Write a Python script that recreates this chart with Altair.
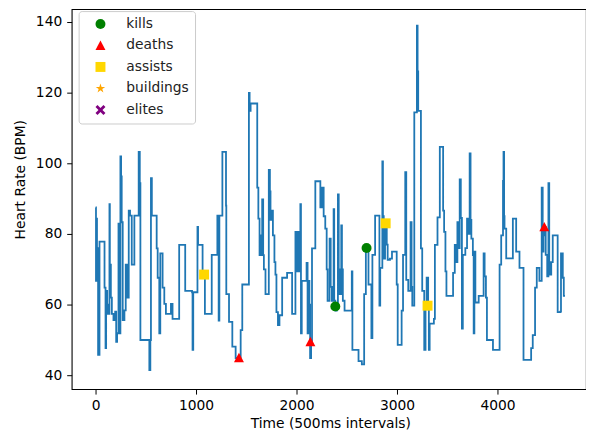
import altair as alt
import pandas as pd

# Heart-rate trace (time index in 500 ms steps, BPM)
t_vals = [0, 4, 8, 14, 22, 25, 39, 89, 99, 105, 115, 122, 138, 142, 152, 162, 178, 195, 205, 214,
          228, 234, 247, 254, 260, 270, 287, 300, 312, 330, 343, 360, 386, 429, 440, 446, 535, 545, 551, 560,
          608, 618, 634, 644, 667, 684, 700, 750, 766, 832, 892, 960, 965, 972, 1014, 1020, 1065, 1088, 1156, 1212,
          1225, 1232, 1262, 1298, 1301, 1328, 1361, 1394, 1420, 1444, 1460, 1526, 1533, 1543, 1609, 1620, 1632, 1642, 1650, 1658,
          1668, 1675, 1691, 1724, 1735, 1741, 1750, 1765, 1780, 1790, 1800, 1815, 1830, 1857, 1906, 1956, 1989, 1999, 2012, 2025,
          2038, 2044, 2052, 2100, 2110, 2118, 2128, 2135, 2145, 2154, 2187, 2237, 2253, 2270, 2286, 2300, 2309, 2329, 2340, 2352,
          2369, 2375, 2386, 2400, 2412, 2420, 2428, 2445, 2452, 2461, 2478, 2550, 2556, 2617, 2650, 2673, 2690, 2716, 2745, 2755,
          2782, 2825, 2833, 2854, 2860, 2868, 2881, 2898, 2907, 2930, 2950, 2997, 3007, 3046, 3060, 3082, 3092, 3112, 3135, 3145,
          3152, 3172, 3198, 3205, 3211, 3238, 3251, 3271, 3284, 3295, 3310, 3317, 3325, 3367, 3377, 3403, 3426, 3459, 3469, 3482,
          3492, 3558, 3575, 3590, 3601, 3610, 3624, 3635, 3646, 3655, 3680, 3697, 3710, 3723, 3732, 3740, 3755, 3763, 3770, 3780,
          3813, 3862, 3872, 3885, 3895, 3955, 4021, 4037, 4055, 4060, 4066, 4070, 4087, 4153, 4186, 4219, 4259, 4335, 4351, 4374,
          4391, 4417, 4440, 4450, 4458, 4466, 4480, 4495, 4507, 4515, 4523, 4535, 4550, 4599, 4625, 4632, 4650, 4660, 4672]
hr_vals = [87.5, 66.7, 84.3, 72, 76, 45.8, 77.8, 64.8, 47.7, 63.9, 60, 57.4, 88.4, 71.3, 62, 57.4, 55.6, 58, 49.5, 51.9,
           82.9, 51.9, 101.9, 96.3, 83.3, 55.6, 58.4, 71.3, 62, 86.6, 85.2, 71.3, 85.2, 103.2, 94.4, 50, 41.5, 50, 95.8, 85.2,
           75.9, 67.6, 51.9, 74.5, 64.8, 60.2, 57.4, 60.2, 56, 76.9, 63.9, 63.5, 47.2, 63.5, 82, 76.9, 68.5, 57.4, 74.1, 85.2,
           55.5, 85.2, 103.2, 88, 63, 55.1, 48.1, 44.9, 45, 52.8, 65.7, 119.9, 114.8, 116.9, 93.1, 84.3, 74, 79.6, 74, 89.8,
           74, 70, 63, 98.1, 92, 84, 86.6, 79.6, 72, 68.5, 57.9, 54.2, 57, 67.6, 69, 57.4, 80.6, 69.4, 80.6, 69.4,
           88.4, 51.9, 66.7, 71.8, 51.9, 66.7, 60, 44.9, 49.5, 75.9, 94.9, 87.5, 93.1, 85, 81.5, 70, 61.1, 78.7, 65, 61.1,
           87, 61.1, 58.3, 60, 91.2, 70, 63, 82.4, 70, 61.1, 58.3, 69.4, 47.2, 44, 43.1, 63, 75.9, 65.7, 50.5, 74.1,
           85.2, 59.7, 70.4, 100.5, 85, 73, 82.9, 77, 72.7, 73, 75, 65.7, 48.6, 58.3, 74.1, 97.5, 67, 63.9, 83.3, 65,
           59.7, 114.4, 138.9, 126, 114.8, 75.9, 63.9, 47.2, 59.7, 67.6, 59.7, 47.2, 54.6, 56, 76.9, 84.7, 104.6, 86.6, 80.6, 69.4,
           62.5, 69, 76.9, 72, 83.3, 76, 95.4, 84.5, 53.2, 74.1, 76, 84.3, 80, 102.8, 84, 78.7, 74, 51.9, 75, 60.6,
           62.5, 74.5, 68, 62, 50, 47.2, 71.3, 79.6, 95, 103.2, 85, 81.5, 73.1, 84.3, 75, 70.4, 44.4, 47.7, 51.4, 64.8,
           70.4, 66.7, 93.1, 75, 79.6, 82, 74.1, 68, 94.4, 72, 68.5, 72, 79.6, 57.9, 58, 74.5, 67.6, 62.5, 62.5]

# Game events
ev_t = [2386, 2697, 1427, 2138, 4466, 1080, 2887, 3304]
ev_hr = [59.5, 76, 45, 49.5, 82, 68.5, 83, 59.7]
ev_type = ["kills", "kills", "deaths", "deaths", "deaths", "assists", "assists", "assists"]

ev_domain = ["kills", "deaths", "assists", "buildings", "elites"]
ev_colors = ["#008000", "#ff0000", "#ffd700", "#ffa500", "#800080"]
tri = "M0,-1L1,0.9L-1,0.9Z"
star = ("M0,-1L0.223,-0.307L0.951,-0.309L0.361,0.117L0.588,0.809L0,0.38L-0.588,0.809"
        "L-0.361,0.117L-0.951,-0.309L-0.223,-0.307Z")
xshape = "M-1,-0.6L-0.6,-1L0,-0.4L0.6,-1L1,-0.6L0.4,0L1,0.6L0.6,1L0,0.4L-0.6,1L-1,0.6L-0.4,0Z"
ev_shapes = ["circle", tri, "square", star, xshape]

line_df = pd.DataFrame({"t": t_vals, "hr": hr_vals})
ev_df = pd.DataFrame({"t": ev_t, "hr": ev_hr, "event": ev_type})

FONT = "DejaVu Sans"
FS = 13.9

xscale = alt.Scale(domain=[-238, 4881], nice=False, zero=False)
yscale = alt.Scale(domain=[36.1, 143.6], nice=False, zero=False)

xaxis = alt.Axis(values=[0, 1000, 2000, 3000, 4000], format="d", title="Time (500ms intervals)",
                 grid=False, domain=False, tickSize=5, tickColor="black", labelPadding=4,
                 titleX=260, titleY=35, titleBaseline="middle")
yaxis = alt.Axis(values=[40, 60, 80, 100, 120, 140], format="d", title="Heart Rate (BPM)",
                 grid=False, domain=False, tickSize=5, tickColor="black", labelPadding=5,
                 titleX=-51, titleY=171, titleBaseline="middle", titleAngle=-90)

line = alt.Chart(line_df).mark_line(interpolate="step-after", color="#1f77b4", strokeWidth=1.8).encode(
    x=alt.X("t:Q", scale=xscale, axis=xaxis),
    y=alt.Y("hr:Q", scale=yscale, axis=yaxis),
)

leg = alt.Legend(title=None, orient="none", legendX=7, legendY=2, padding=6, rowPadding=6.6,
                 symbolOffset=9, labelOffset=19, labelFontSize=FS, labelFont=FONT, labelColor="#222222",
                 strokeColor="#cccccc", fillColor="rgba(255,255,255,0.8)", cornerRadius=3,
                 symbolSize=100, symbolStrokeWidth=0)

pts = alt.Chart(ev_df).mark_point(filled=True, size=100, opacity=1).encode(
    x=alt.X("t:Q", scale=xscale),
    y=alt.Y("hr:Q", scale=yscale),
    color=alt.Color("event:N", scale=alt.Scale(domain=ev_domain, range=ev_colors), legend=leg),
    shape=alt.Shape("event:N", scale=alt.Scale(domain=ev_domain, range=ev_shapes), legend=leg),
)

chart = alt.layer(line, pts).properties(
    width=517, height=382,
    autosize=alt.AutoSizeParams(type="none"),
    padding={"left": 64, "top": 0, "right": 0, "bottom": 41},
).configure_view(stroke="black", strokeWidth=1.1).configure_axis(
    labelFont=FONT, labelFontSize=FS, labelColor="black", titleFont=FONT, titleFontSize=FS,
    titleFontWeight="normal", titleColor="black",
)

chart.save("out.html", embed_options={"renderer": "svg", "actions": False})
